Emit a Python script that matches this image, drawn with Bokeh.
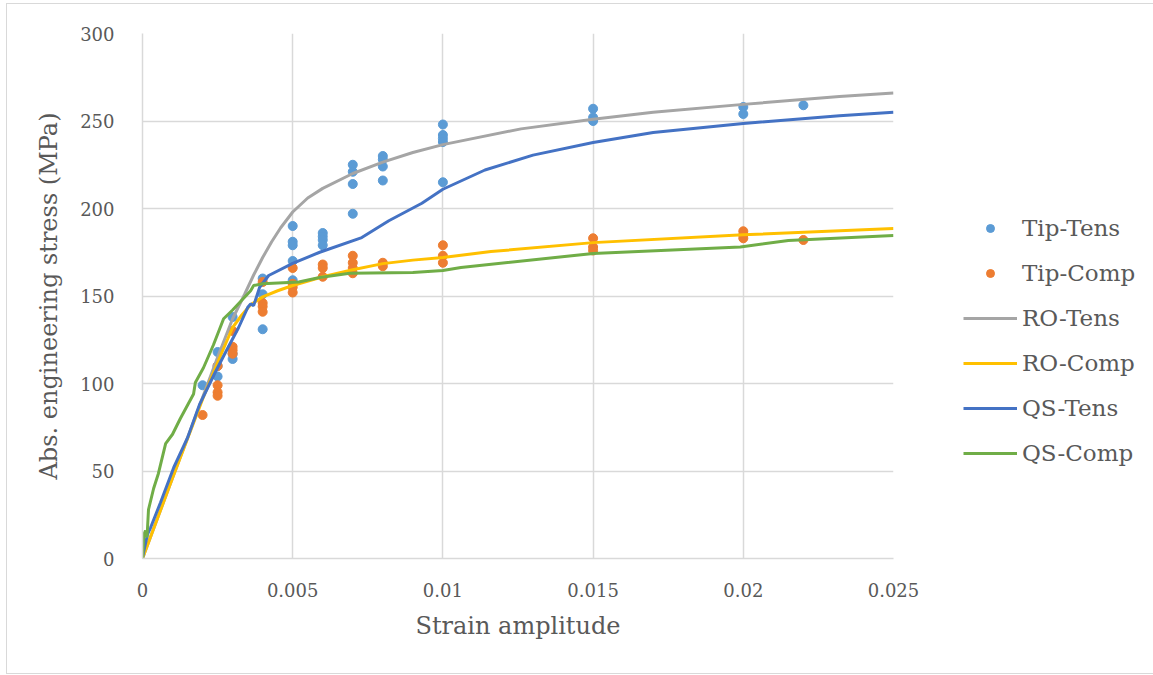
from bokeh.plotting import figure
from bokeh.models import Legend, LegendItem, FixedTicker, Range1d
from bokeh.embed import file_html
from bokeh.resources import INLINE

# ---------------- data ----------------
tip_tens_strain = [0.002,
                   0.0025, 0.0025, 0.0025,
                   0.003, 0.003, 0.003,
                   0.004, 0.004, 0.004,
                   0.005, 0.005, 0.005, 0.005, 0.005,
                   0.006, 0.006, 0.006, 0.006,
                   0.007, 0.007, 0.007, 0.007,
                   0.008, 0.008, 0.008, 0.008,
                   0.01, 0.01, 0.01, 0.01, 0.01,
                   0.015, 0.015, 0.015,
                   0.02, 0.02,
                   0.022]
tip_tens_stress = [99,
                   118, 110, 104,
                   138, 117, 114,
                   160, 151, 131,
                   190, 181, 179, 170, 159,
                   186, 184, 182, 179,
                   225, 221, 214, 197,
                   230, 228, 224, 216,
                   248, 242, 240, 238, 215,
                   257, 252, 250,
                   258, 254,
                   259]

tip_comp_strain = [0.002,
                   0.0025, 0.0025, 0.0025, 0.0025,
                   0.003, 0.003, 0.003, 0.003,
                   0.004, 0.004, 0.004, 0.004,
                   0.005, 0.005, 0.005, 0.005,
                   0.006, 0.006, 0.006,
                   0.007, 0.007, 0.007, 0.007,
                   0.008, 0.008,
                   0.01, 0.01, 0.01,
                   0.015, 0.015, 0.015,
                   0.02, 0.02, 0.02,
                   0.022]
tip_comp_stress = [82,
                   110, 99, 95, 93,
                   130, 121, 119, 117,
                   158, 146, 144, 141,
                   166, 157, 155, 152,
                   168, 166, 161,
                   173, 169, 166, 163,
                   169, 167,
                   179, 173, 169,
                   183, 178, 176,
                   187, 185, 183,
                   182]

ro_tens_strain = [0, 0.001, 0.002, 0.0025, 0.003, 0.0034, 0.0037, 0.004, 0.0043, 0.0046,
                  0.005, 0.0055, 0.006, 0.007, 0.008, 0.009, 0.01, 0.0126, 0.015, 0.017,
                  0.02, 0.0232, 0.025]
ro_tens_stress = [0, 46, 92, 115, 137, 151, 162, 172, 181, 189,
                  198, 206, 211.5, 220, 226.5, 232, 236.5, 245.5, 251, 255,
                  259.5, 264, 266]

ro_comp_strain = [0, 0.001, 0.002, 0.0025, 0.003, 0.0033, 0.0036, 0.004, 0.0045, 0.005,
                  0.006, 0.007, 0.008, 0.009, 0.01, 0.0116, 0.015, 0.02, 0.025]
ro_comp_stress = [0, 46, 91, 112, 132, 139, 145, 149.5, 153, 156,
                  161, 165, 168.5, 170.5, 172, 175.4, 180.5, 185, 188.6]

qs_tens_strain = [0, 0.00003, 0.00017, 0.00027, 0.0006, 0.00104, 0.0015, 0.0019, 0.0024,
                  0.0028, 0.0032, 0.0035, 0.0036, 0.0037, 0.0039, 0.0042, 0.005, 0.0059,
                  0.0073, 0.0082, 0.0093, 0.01, 0.0114, 0.013, 0.015, 0.017, 0.02,
                  0.0232, 0.025]
qs_tens_stress = [0, 3, 14, 17.7, 32, 52, 69, 88, 105.7,
                  119, 132, 143.4, 145.5, 144.5, 155, 161.7, 168.6, 175,
                  183.4, 193, 203, 211, 222, 230.5, 237.7, 243.4, 248.6,
                  253, 255]

qs_comp_strain = [0, 0.00005, 0.0001, 0.00015, 0.0002, 0.00037, 0.00053, 0.00077, 0.001,
                  0.00126, 0.0017, 0.00176, 0.00203, 0.00236, 0.0027, 0.003, 0.0036,
                  0.0037, 0.004, 0.0052, 0.0059, 0.0069, 0.009, 0.01, 0.0106, 0.015,
                  0.0199, 0.0215, 0.025]
qs_comp_stress = [0, 14, 16, 12, 28, 40, 48.6, 65.7, 71,
                  80, 94, 100.6, 109, 122, 137, 142, 153,
                  156, 157, 158, 160.6, 163, 163.4, 164.6, 166.3, 174.3,
                  178, 181.7, 184.6]

x_ticks = [0, 0.005, 0.01, 0.015, 0.02, 0.025]
x_tick_labels = ["0", "0.005", "0.01", "0.015", "0.02", "0.025"]
y_ticks = [0, 50, 100, 150, 200, 250, 300]

# ---------------- style ----------------
FONT = "DejaVu Serif"
TXT = "#595959"
GRID = "#d9d9d9"

p = figure(frame_width=751, frame_height=525, output_backend="svg", toolbar_location=None,
           x_range=Range1d(0, 0.025), y_range=Range1d(0, 300),
           min_border_left=135, min_border_right=257, min_border_top=29,
           min_border_bottom=115)
p.margin = (3, 0, 0, 6)
p.styles = {"border": "1px solid #d9d9d9"}
p.outline_line_color = None
p.background_fill_color = "white"
p.border_fill_color = "white"

p.xaxis.ticker = FixedTicker(ticks=x_ticks)
p.yaxis.ticker = FixedTicker(ticks=y_ticks)
p.xaxis.major_label_overrides = {t: l for t, l in zip(x_ticks, x_tick_labels)}
for ax in (p.xaxis, p.yaxis):
    ax.major_tick_line_color = None
    ax.minor_tick_line_color = None
    ax.axis_line_color = GRID
    ax.axis_line_width = 1.5
    ax.major_label_text_font = FONT
    ax.major_label_text_font_size = "18px"
    ax.major_label_text_color = TXT
    ax.axis_label_text_font = FONT
    ax.axis_label_text_font_size = "24px"
    ax.axis_label_text_color = TXT
    ax.axis_label_text_font_style = "normal"
p.xaxis.axis_label = "Strain amplitude"
p.yaxis.axis_label = "Abs. engineering stress (MPa)"
p.xaxis.major_label_standoff = 18
p.yaxis.major_label_standoff = 22
p.xaxis.axis_label_standoff = 12
p.yaxis.axis_label_standoff = 14

p.grid.grid_line_color = GRID
p.grid.grid_line_width = 1.5

r_tt = p.scatter(tip_tens_strain, tip_tens_stress, size=9, color="#5b9bd5")
r_tc = p.scatter(tip_comp_strain, tip_comp_stress, size=9, color="#ed7d31")
r_rt = p.line(ro_tens_strain, ro_tens_stress, line_width=3, color="#a5a5a5")
r_rc = p.line(ro_comp_strain, ro_comp_stress, line_width=3, color="#ffc000")
r_qt = p.line(qs_tens_strain, qs_tens_stress, line_width=3, color="#4472c4")
r_qc = p.line(qs_comp_strain, qs_comp_stress, line_width=3, color="#70ad47")

legend = Legend(items=[
    LegendItem(label="Tip-Tens", renderers=[r_tt]),
    LegendItem(label="Tip-Comp", renderers=[r_tc]),
    LegendItem(label="RO-Tens", renderers=[r_rt]),
    LegendItem(label="RO-Comp", renderers=[r_rc]),
    LegendItem(label="QS-Tens", renderers=[r_qt]),
    LegendItem(label="QS-Comp", renderers=[r_qc]),
], location=(70, 92))
legend.glyph_width = 54
legend.glyph_height = 20
legend.label_standoff = 5
legend.spacing = 19
legend.padding = 0
legend.margin = 0
legend.border_line_color = None
legend.background_fill_alpha = 0
legend.label_text_font = FONT
legend.label_text_font_size = "23px"
legend.label_text_color = TXT
p.add_layout(legend, "right")

open("out.html", "w").write(file_html(p, INLINE))
